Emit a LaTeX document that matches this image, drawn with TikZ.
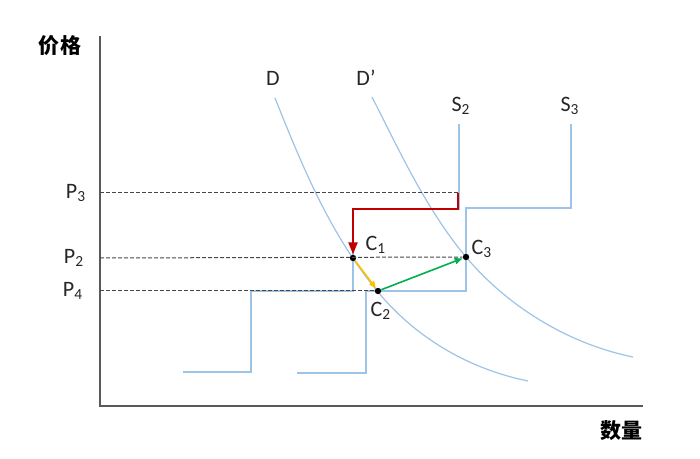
\documentclass[tikz,border=0pt]{standalone}
\usepackage{fontspec}
\setmainfont{Carlito}
\newfontfamily\cjk{Noto Sans CJK SC}
\usetikzlibrary{arrows.meta}
\definecolor{curveblue}{HTML}{9DC3E6}
\definecolor{stepred}{HTML}{C00000}
\definecolor{stepyellow}{HTML}{FFC000}
\definecolor{stepgreen}{HTML}{00B050}
\definecolor{axisgray}{HTML}{595959}
\definecolor{textgray}{HTML}{262626}

\begin{document}
\begin{tikzpicture}[x=0.5pt, y=-0.5pt, every node/.style={font=\fontsize{11}{13}\selectfont, text=textgray},
    curve/.style={curveblue, line width=0.6pt},
    pline/.style={textgray!85, dash pattern=on 2pt off 1pt, line width=0.5pt},
    point/.style={circle, fill=black, inner sep=0pt, minimum size=3.2pt}]
                \useasboundingbox (0,0) rectangle (700,459);

                \coordinate (ytop) at (100,36);
                \coordinate (xend) at (643,406);
                \draw[axisgray, line width=0.7pt] (ytop) |- (xend);
                \node[font=\fontsize{10.5}{12}\selectfont\cjk\bfseries, text=black] (price) at (60,46) {价格};
                \node[font=\fontsize{10.5}{12}\selectfont\cjk\bfseries, text=black] (qty) at (621,431) {数量};

                \draw[curve] (275,98) .. controls (303,168) and (330,234) .. (378,292)
                    .. controls (416,338) and (469,369) .. (528,381);
                \draw[curve] (372,97) .. controls (400,152) and (426,209) .. (466,257)
                    .. controls (508,307) and (569,344) .. (633,357);
                \node (d) at (273,78) {D};
                \node (dd) at (366,78) {D'};

                \draw[curve] (459,124) -- (459,209) -- (353,209) -- (353,291) -- (251,291) -- (251,372) -- (183,372);
                \draw[curve] (571,124) -- (571,208) -- (466,208) -- (466,291) -- (366,291) -- (366,373) -- (297,373);
                \node (s2) at (461,106) {S\textsubscript{2}};
                \node (s3) at (570,106) {S\textsubscript{3}};

                \node[point] (c1) at (353,258) {};
                \node[point] (c2) at (378,291) {};
                \node[point] (c3) at (466,257) {};
                \coordinate (r0) at (458,193);
                \node (c1l) at (376,245) {C\textsubscript{1}};
                \node (c2l) at (381,311) {C\textsubscript{2}};
                \node (c3l) at (482,249) {C\textsubscript{3}};

                \foreach \i/\y/\lx in {3/193/76, 2/258/74, 4/291/73} {
                    \coordinate (a\i) at (100,\y);
                    \node (p\i) at (\lx,\y) {P\textsubscript{\i}};
                }
                \draw[pline] (a3) -- (r0);
                \draw[pline] (a2) -- (c3);
                \draw[pline] (a4) -- (c2);

                \draw[stepred, line width=1pt, -{Triangle[length=6pt, width=4.5pt]}] (r0) |- (353,209) -- (c1);
                \draw[stepyellow, line width=0.8pt, -{Triangle[length=3.5pt, width=3pt]}] (c1) -- (c2);
                \draw[stepgreen, line width=0.8pt, -{Triangle[length=4pt, width=3pt]}] (c2) -- (c3);
            \end{tikzpicture}
\end{document}
